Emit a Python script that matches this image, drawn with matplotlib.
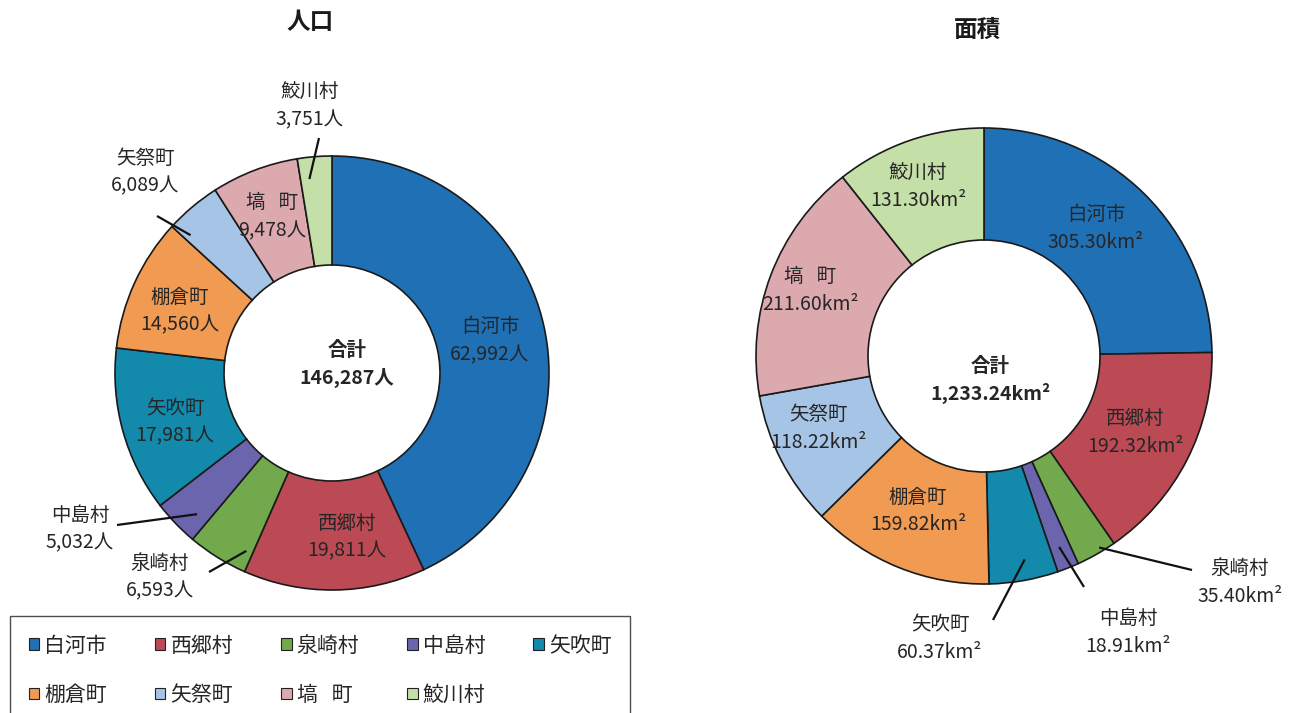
import matplotlib
matplotlib.use("Agg")
import matplotlib.pyplot as plt
from matplotlib.patches import Patch
import numpy as np

plt.rcParams['font.family'] = ['Noto Sans CJK JP', 'DejaVu Sans']

# ---------------- data ----------------
categories = ["白河市", "西郷村", "泉崎村", "中島村", "矢吹町", "棚倉町", "矢祭町", "塙   町", "鮫川村"]
population = [62992, 19811, 6593, 5032, 17981, 14560, 6089, 9478, 3751]
area = [305.30, 192.32, 35.40, 18.91, 60.37, 159.82, 118.22, 211.60, 131.30]
pop_labels = ["62,992人", "19,811人", "6,593人", "5,032人", "17,981人", "14,560人", "6,089人", "9,478人", "3,751人"]
area_labels = ["305.30km²", "192.32km²", "35.40km²", "18.91km²", "60.37km²", "159.82km²", "118.22km²", "211.60km²", "131.30km²"]
pop_total_label = "146,287人"
area_total_label = "1,233.24km²"
titles = ["人口", "面積"]
colors = ["#1F70B5", "#BC4A55", "#72A94C", "#6B65AE", "#1389AB", "#F09A52", "#A6C5E6", "#DCA9AF", "#C5DFA8"]

W, H = 1295, 713
fig = plt.figure(figsize=(W / 100, H / 100), dpi=100)
fig.patch.set_facecolor("white")
ax = fig.add_axes([0, 0, 1, 1])
ax.set_xlim(0, W)
ax.set_ylim(0, H)
ax.axis("off")

def py(y):
    return H - y

TXT = "#262626"
EDGE = "#1a1a1a"

def draw_donut(values, center, radius, width):
    ax.pie(values, colors=colors, center=center, radius=radius, startangle=90,
           counterclock=False, frame=True,
           wedgeprops=dict(width=width, edgecolor=EDGE, linewidth=1.2))

def anchor(values, idx, center, radius, rfrac, pos=0.5):
    v = np.asarray(values, float)
    cum = np.cumsum(v) / v.sum()
    start = cum[idx - 1] if idx > 0 else 0.0
    f = start + pos * (cum[idx] - start)
    ang = np.deg2rad(90 - 360 * f)
    return center[0] + rfrac * radius * np.cos(ang), center[1] + rfrac * radius * np.sin(ang)

def label(x, y, name, val, fs=14):
    ax.text(x, py(y), name, ha="center", va="center", fontsize=fs, color=TXT)
    ax.text(x, py(y + 28), val, ha="center", va="center", fontsize=fs, color=TXT)

# ---------------- left donut: population ----------------
cL = (332, py(373))
rL = 217
draw_donut(population, cL, rL, 109)
ax.text(310, py(22), titles[0], ha="center", va="center", fontsize=17, fontweight="bold", color="#1a1a1a")

inside_L = {0: (490, 327), 1: (347, 523), 4: (175, 408), 5: (180, 297), 7: (272, 203)}
for i, (x, y) in inside_L.items():
    label(x, y, categories[i], pop_labels[i])

# text position, outer line end, radius fraction, position within slice
outside_L = {2: ((160, 563), (209, 572), 0.91, 0.12),
             3: ((80, 515), (117, 525), 0.90, 0.30),
             6: ((145, 158), (157, 216), 0.91, 0.12),
             8: ((310, 92), (319, 138), 0.90, 0.28)}
for i, (tpos, lend, rf, ps) in outside_L.items():
    label(tpos[0], tpos[1], categories[i], pop_labels[i])
    a0 = anchor(population, i, cL, rL, rf, ps)
    ax.plot([a0[0], lend[0]], [a0[1], py(lend[1])], color="#111111", lw=1.6, solid_capstyle="butt")

ax.text(347, py(350), "合計", ha="center", va="center", fontsize=14, fontweight="bold", color=TXT)
ax.text(347, py(378), pop_total_label, ha="center", va="center", fontsize=14, fontweight="bold", color=TXT)

# ---------------- right donut: area ----------------
cR = (984, py(356))
rR = 228
draw_donut(area, cR, rR, 112)
ax.text(977, py(30), titles[1], ha="center", va="center", fontsize=17, fontweight="bold", color="#1a1a1a")

inside_R = {0: (1096, 215), 1: (1135, 418), 5: (918, 497), 6: (818, 415), 7: (810, 276), 8: (918, 173)}
for i, (x, y) in inside_R.items():
    label(x, y, categories[i], area_labels[i])

outside_R = {2: ((1240, 568), (1192, 570), 0.98, 0.36),
             3: ((1128, 618), (1084, 587), 0.90, 0.53),
             4: ((940, 625), (993, 620), 0.91, 0.43)}
for i, (tpos, lend, rf, ps) in outside_R.items():
    label(tpos[0], tpos[1], categories[i], area_labels[i])
    a0 = anchor(area, i, cR, rR, rf, ps)
    ax.plot([a0[0], lend[0]], [a0[1], py(lend[1])], color="#111111", lw=1.6, solid_capstyle="butt")

ax.text(990, py(366), "合計", ha="center", va="center", fontsize=14, fontweight="bold", color=TXT)
ax.text(990, py(393), area_total_label, ha="center", va="center", fontsize=14, fontweight="bold", color=TXT)

ax.set_xlim(0, W)
ax.set_ylim(0, H)
ax.set_aspect("auto")

# ---------------- legend (row-major order: fill columns accordingly) ----------------
order = [0, 5, 1, 6, 2, 7, 3, 8, 4]
handles = [Patch(facecolor=colors[k], edgecolor="#222222", linewidth=0.8) for k in order]
labels = [categories[k] for k in order]
leg = fig.legend(handles, labels, ncol=5, loc="upper left",
                 bbox_to_anchor=(10 / W, 1 - 616 / H), frameon=True, fancybox=False,
                 edgecolor="#222222", fontsize=15, handlelength=0.5, handleheight=0.5,
                 handletextpad=0.25, columnspacing=2.3, labelspacing=1.3,
                 borderpad=0.9, borderaxespad=0)
leg.get_frame().set_linewidth(1.0)
for t in leg.get_texts():
    t.set_color(TXT)

fig.savefig("out.png", dpi=100, facecolor="white")
